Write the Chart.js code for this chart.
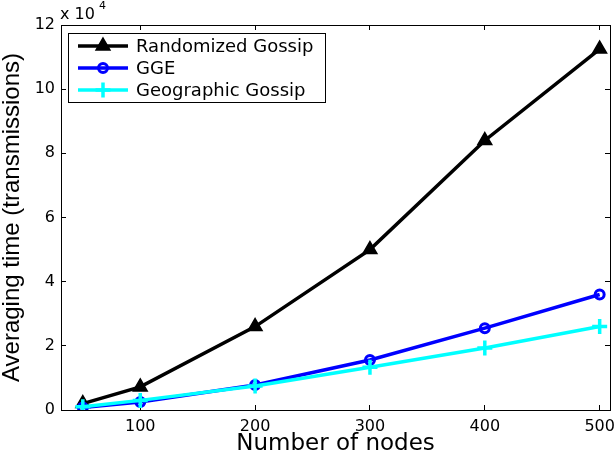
<!DOCTYPE html>
<html>
<head>
<meta charset="utf-8">
<script src="https://cdn.jsdelivr.net/npm/chart.js@4.4.1/dist/chart.umd.min.js"></script>
<style>
  html, body { margin: 0; padding: 0; background: #fff; }
  canvas { display: block; }
</style>
</head>
<body>
<canvas id="myChart" width="614" height="456"></canvas>
<script>
// values (y in transmissions)
const nodes = [50, 100, 200, 300, 400, 500];
const randomizedGossip = [2000, 7200, 26000, 50000, 84000, 112500];
const gge = [800, 2500, 7800, 15600, 25500, 36000];
const geographicGossip = [1000, 3000, 7500, 13300, 19300, 26000];

const xTicks = [100, 200, 300, 400, 500];
const yTicks = [0, 20000, 40000, 60000, 80000, 100000, 120000];
const seriesNames = ['Randomized Gossip', 'GGE', 'Geographic Gossip'];

const toPoints = ys => nodes.map((n, i) => ({ x: n, y: ys[i] }));

// shared look of the four axis edges: black frame, short ticks pointing inward
const edge = {
  grid: { display: true, drawOnChartArea: false, drawTicks: true, tickLength: -5, color: '#000', lineWidth: 1 },
  border: { display: true, color: '#000', width: 1 }
};
const setXTicks = s => { s.ticks = xTicks.map(v => ({ value: v })); };
const setYTicks = s => { s.ticks = yTicks.map(v => ({ value: v })); };
// keep the plot box fixed; the last x label may run off the edge like the original
const fixX = h => s => { s.height = h; s.paddingLeft = 0; s.paddingRight = 0; };
const fixY = w => s => { s.width = w; s.paddingTop = 0; s.paddingBottom = 0; };

// exponent label above the y axis
const expLabel = {
  id: 'expLabel',
  afterDraw(chart) {
    const { ctx, chartArea: a } = chart;
    ctx.save();
    ctx.fillStyle = '#000';
    ctx.textBaseline = 'alphabetic';
    ctx.textAlign = 'left';
    ctx.font = '16px "DejaVu Sans"';
    ctx.fillText('x 10', a.left - 1, a.top - 6);
    ctx.font = '11px "DejaVu Sans"';
    ctx.fillText('4', a.left + 38, a.top - 16);
    ctx.restore();
  }
};

// legend box in the top left corner, line + marker like MATLAB
const boxLegend = {
  id: 'boxLegend',
  afterDraw(chart) {
    const { ctx, chartArea: a } = chart;
    const x0 = Math.round(a.left) + 7, y0 = Math.round(a.top) + 8, w = 257, h = 69;
    ctx.save();
    ctx.fillStyle = '#ffffff';
    ctx.fillRect(x0, y0, w, h);
    ctx.fillStyle = '#000000';
    ctx.fillRect(x0, y0, w, 1);
    ctx.fillRect(x0, y0 + h, w + 1, 1);
    ctx.fillRect(x0, y0, 1, h);
    ctx.fillRect(x0 + w, y0, 1, h);
    chart.data.datasets.forEach((ds, i) => {
      const y = y0 + 13 + i * 22;
      ctx.strokeStyle = ds.borderColor;
      ctx.lineWidth = ds.borderWidth;
      ctx.beginPath();
      ctx.moveTo(x0 + 10, y);
      ctx.lineTo(x0 + 60, y);
      ctx.stroke();
      ctx.fillStyle = ds.pointBackgroundColor;
      ctx.strokeStyle = ds.pointBorderColor;
      ctx.lineWidth = ds.pointBorderWidth;
      Chart.helpers.drawPoint(ctx, {
        pointStyle: ds.pointStyle,
        radius: ds.pointRadius,
        rotation: 0,
        borderWidth: ds.pointBorderWidth
      }, x0 + 35, y);
      ctx.fillStyle = '#000000';
      ctx.font = '18px "DejaVu Sans"';
      ctx.textBaseline = 'middle';
      ctx.textAlign = 'left';
      ctx.fillText(ds.label, x0 + 68, y + 1);
    });
    ctx.restore();
  }
};

document.addEventListener('DOMContentLoaded', () => {
  const ctx = document.getElementById('myChart').getContext('2d');
  new Chart(ctx, {
    type: 'line',
    data: {
      datasets: [{
        label: seriesNames[0],
        data: toPoints(randomizedGossip),
        borderColor: '#000000',
        borderWidth: 3.5,
        pointStyle: 'triangle',
        pointRadius: 8,
        pointBackgroundColor: '#000000',
        pointBorderColor: '#000000',
        pointBorderWidth: 1.5,
        order: 2
      }, {
        label: seriesNames[1],
        data: toPoints(gge),
        borderColor: '#0000ff',
        borderWidth: 3.5,
        pointStyle: 'circle',
        pointRadius: 4.5,
        pointBackgroundColor: 'rgba(0,0,0,0)',
        pointBorderColor: '#0000ff',
        pointBorderWidth: 3,
        order: 1
      }, {
        label: seriesNames[2],
        data: toPoints(geographicGossip),
        borderColor: '#00ffff',
        borderWidth: 3.5,
        pointStyle: 'cross',
        pointRadius: 7.5,
        pointBackgroundColor: '#00ffff',
        pointBorderColor: '#00ffff',
        pointBorderWidth: 3.5,
        order: 0
      }]
    },
    options: {
      responsive: false,
      animation: false,
      devicePixelRatio: 1,
      layout: { autoPadding: false, padding: { left: 0, right: 4, top: 25, bottom: 0 } },
      elements: { line: { tension: 0 } },
      plugins: {
        legend: { display: false },
        tooltip: { enabled: false }
      },
      scales: {
        x: {
          type: 'linear',
          position: 'bottom',
          min: 31,
          max: 509,
          afterBuildTicks: setXTicks,
          afterFit: fixX(46),
          grid: edge.grid,
          border: edge.border,
          ticks: {
            color: '#000',
            padding: 12,
            maxRotation: 0,
            font: { family: 'DejaVu Sans', size: 16 }
          },
          title: {
            display: true,
            text: 'Number of nodes',
            color: '#000',
            padding: 0,
            font: { family: 'DejaVu Sans', size: 23, lineHeight: 1 }
          }
        },
        x2: {
          type: 'linear',
          position: 'top',
          min: 31,
          max: 509,
          afterBuildTicks: setXTicks,
          afterFit: fixX(0),
          grid: edge.grid,
          border: edge.border,
          ticks: { display: false }
        },
        y: {
          type: 'linear',
          position: 'left',
          min: 0,
          max: 120000,
          afterBuildTicks: setYTicks,
          afterFit: fixY(61),
          grid: edge.grid,
          border: edge.border,
          ticks: {
            color: '#000',
            padding: 11,
            font: { family: 'DejaVu Sans', size: 16 },
            callback: v => String(v / 10000)
          },
          title: {
            display: true,
            text: 'Averaging time (transmissions)',
            color: '#000',
            padding: 0,
            font: { family: 'Liberation Sans', size: 24, lineHeight: 1 }
          }
        },
        y2: {
          type: 'linear',
          position: 'right',
          min: 0,
          max: 120000,
          afterBuildTicks: setYTicks,
          afterFit: fixY(0),
          grid: edge.grid,
          border: edge.border,
          ticks: { display: false }
        }
      }
    },
    plugins: [expLabel, boxLegend]
  });
});
</script>
</body>
</html>
